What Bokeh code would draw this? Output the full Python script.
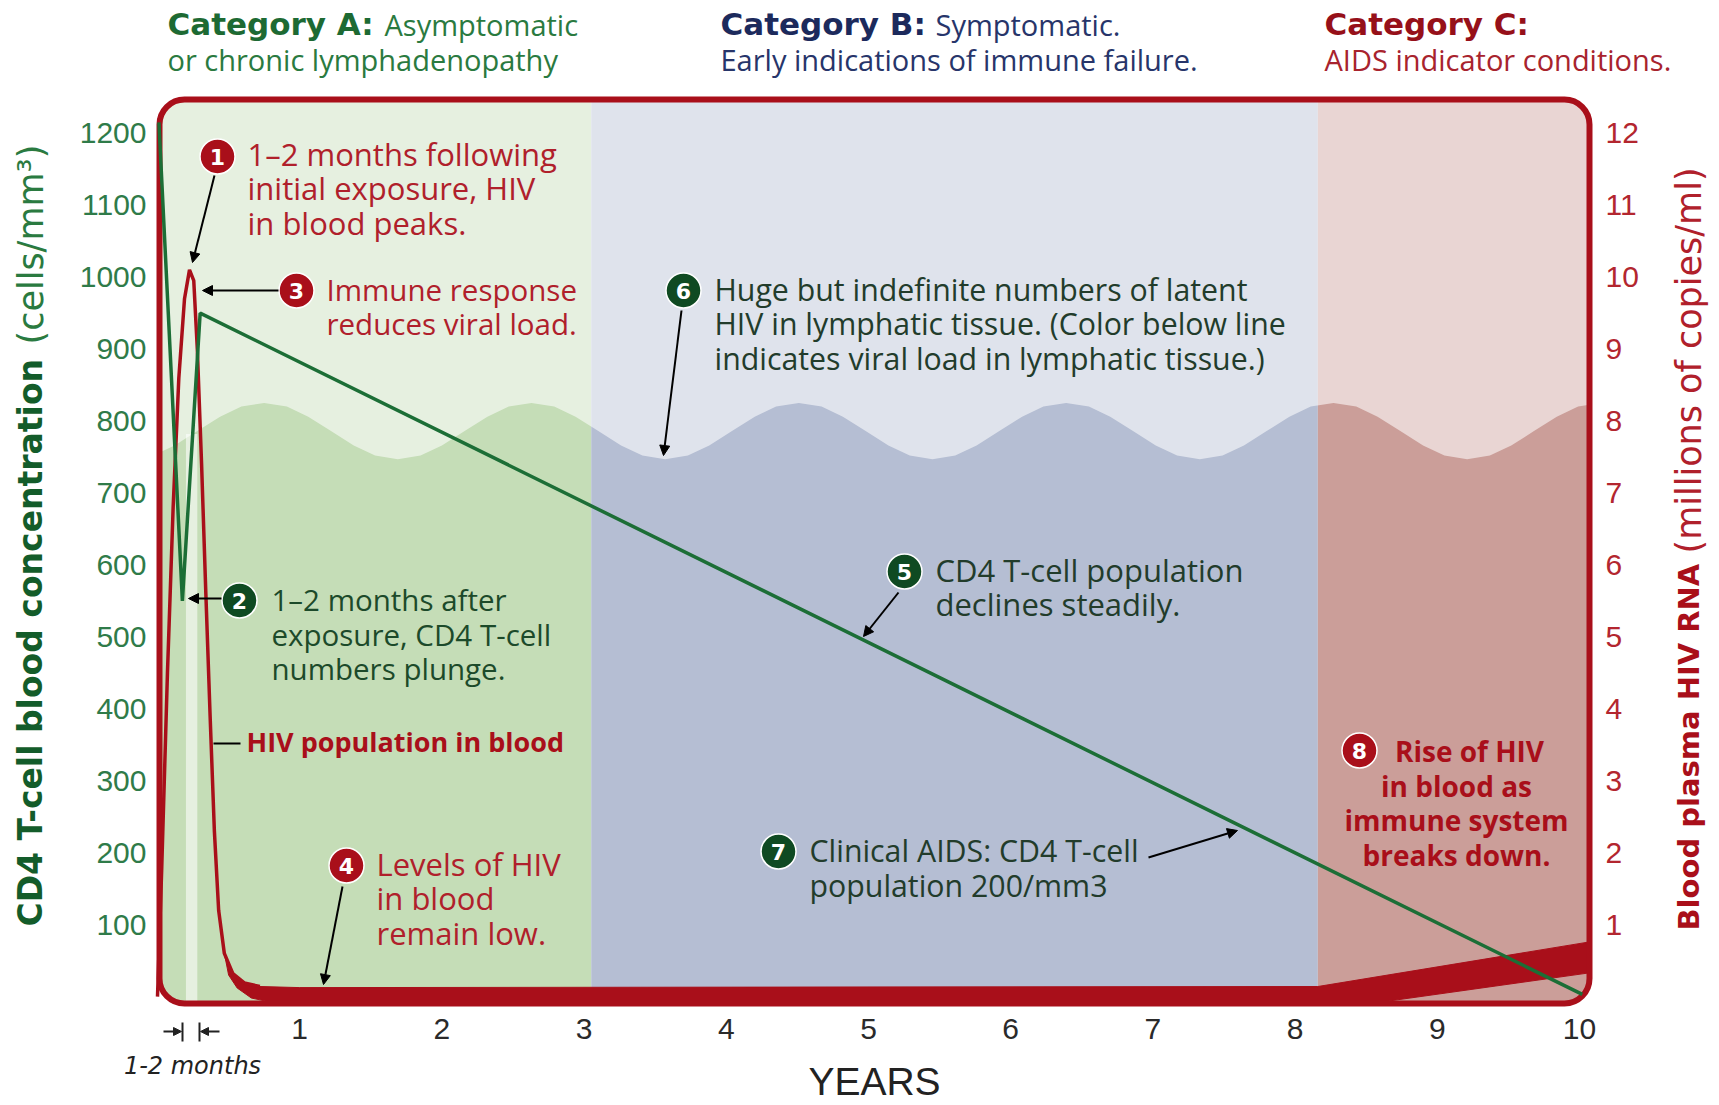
import numpy as np
from bokeh.plotting import figure
from bokeh.models import Range1d, LinearAxis, FixedTicker, Label, Arrow, NormalHead
from bokeh.core.properties import value
from bokeh.embed import file_html
from bokeh.resources import INLINE

# ------------------------------------------------------------------ data
year_ticks = [1, 2, 3, 4, 5, 6, 7, 8, 9, 10]
cd4_ticks = [100, 200, 300, 400, 500, 600, 700, 800, 900, 1000, 1100, 1200]
rna_ticks = [1, 2, 3, 4, 5, 6, 7, 8, 9, 10, 11, 12]

category_titles = ["Category A:", "Category B:", "Category C:"]
category_first = ["Asymptomatic", "Symptomatic.", ""]
category_second = ["or chronic lymphadenopathy",
                   "Early indications of immune failure.",
                   "AIDS indicator conditions."]
category_start = [0.0, 3.05, 8.16]
category_end = [3.05, 8.16, 10.07]

# CD4 T-cell count (cells/mm3)
cd4_years = [0.01, 0.175, 0.30, 10.02]
cd4_cells = [1215, 550, 950, 3]

# HIV RNA in blood (millions of copies/ml) - acute spike
hiv_years = [0.00, 0.03, 0.07, 0.11, 0.15, 0.19, 0.225, 0.255, 0.28, 0.31,
             0.34, 0.37, 0.40, 0.43, 0.47, 0.53, 0.61, 0.72]
hiv_mcopies = [0.0, 1.8, 4.5, 6.8, 8.6, 9.7, 10.1, 9.95, 9.0, 7.4,
               5.6, 3.9, 2.3, 1.2, 0.6, 0.32, 0.19, 0.14]

# HIV RNA band (low plateau, then rise in category C)
band_top_years = [0.47, 0.53, 0.61, 0.72, 1.00, 8.16, 10.07]
band_top_mcopies = [0.6, 0.32, 0.19, 0.14, 0.125, 0.14, 0.76]
band_bottom_years = [10.07, 8.52, 0.85, 0.66, 0.56, 0.50]
band_bottom_mcopies = [0.33, -0.10, -0.10, -0.02, 0.12, 0.30]

# latent HIV in lymphatic tissue (wavy level, drawn on the CD4 scale)
lymph_years = [-0.03, 0.12, 0.28, 0.44, 0.59, 0.75, 0.91, 1.06, 1.22, 1.38, 1.53, 1.69,
               1.85, 2.00, 2.16, 2.32, 2.47, 2.63, 2.79, 2.94, 3.10, 3.26, 3.41, 3.57,
               3.73, 3.88, 4.04, 4.20, 4.35, 4.51, 4.67, 4.82, 4.98, 5.14, 5.29, 5.45,
               5.61, 5.76, 5.92, 6.08, 6.23, 6.39, 6.55, 6.70, 6.86, 7.02, 7.17, 7.33,
               7.49, 7.64, 7.80, 7.96, 8.11, 8.27, 8.43, 8.58, 8.74, 8.90, 9.05, 9.21,
               9.37, 9.52, 9.68, 9.84, 9.99, 10.15]
lymph_level = [752, 766, 786, 806, 820, 825, 820, 806, 786, 766, 752, 747,
               752, 766, 786, 806, 820, 825, 820, 806, 786, 766, 752, 747,
               752, 766, 786, 806, 820, 825, 820, 806, 786, 766, 752, 747,
               752, 766, 786, 806, 820, 825, 820, 806, 786, 766, 752, 747,
               752, 766, 786, 806, 820, 825, 820, 806, 786, 766, 752, 747,
               752, 766, 786, 806, 820, 825]

acute_window = [0.20, 0.28]

# ------------------------------------------------------------------ layout helpers (canvas pixels -> data)
def dx(px):
    return (px - 157.0) / 142.2


def dy(py):
    return (996.1 - py) / 0.7195


W, H = 1715, 1104
RED = "#a90f1a"
RED_T = "#b0202b"
GREEN_LINE = "#1c6e36"
DKGREEN = "#0f4a22"
NOTE_DARK = "#223c2b"
LOWER = ["#c5ddb7", "#b5bed3", "#cb9e99"]

p = figure(width=W, height=H, output_backend="svg", toolbar_location=None,
           x_range=Range1d(dx(0), dx(W)), y_range=Range1d(dy(H), dy(0)), min_border=0)
p.extra_y_ranges = {"rna": Range1d(dy(H) / 100.0, dy(0) / 100.0)}
p.title.visible = False
p.outline_line_color = None
p.grid.visible = False
p.background_fill_color = "white"
p.border_fill_color = "white"

right_axis = LinearAxis(y_range_name="rna")
p.add_layout(right_axis, "right")

p.xaxis.ticker = FixedTicker(ticks=year_ticks)
p.yaxis[0].ticker = FixedTicker(ticks=cd4_ticks)
right_axis.ticker = FixedTicker(ticks=rna_ticks)
for ax in [p.xaxis[0], p.yaxis[0], right_axis]:
    ax.axis_line_color = None
    ax.major_tick_line_color = None
    ax.minor_tick_line_color = None
    ax.major_label_text_font = "Liberation Sans"
    ax.major_label_text_font_size = "30px"
p.xaxis[0].fixed_location = dy(1010)
p.xaxis[0].major_label_text_color = "#2a2a2a"
p.xaxis[0].major_label_standoff = 2
p.yaxis[0].fixed_location = dx(152)
p.yaxis[0].major_label_text_color = "#2f7b49"
p.yaxis[0].major_label_standoff = 0
right_axis.fixed_location = dx(1596)
right_axis.major_label_text_color = "#b3262f"
right_axis.major_label_standoff = 3

FX0, FX1, FY0, FY1 = dx(159), dx(1589), dy(1003), dy(99)

# category backgrounds (lower colour), then light overlay above lymphatic wave
p.quad(left=category_start, right=category_end, bottom=FY0, top=FY1,
       fill_color=LOWER, line_color=None)
p.varea(x=lymph_years, y1=lymph_level, y2=FY1, fill_color="white", fill_alpha=0.57)
p.quad(left=acute_window[0], right=acute_window[1], bottom=FY0, top=782,
       fill_color="white", fill_alpha=0.57, line_color=None)

# HIV band at the bottom
p.patch(x=band_top_years + band_bottom_years, y=band_top_mcopies + band_bottom_mcopies,
        y_range_name="rna", fill_color=RED, line_color=RED, line_width=1)

# rounded corner masks
R = 25.0
rx, ry = R / 142.2, R / 0.7195
padx, pady = 14 / 142.2, 14 / 0.7195
mx, my = [], []
for (cx0, cy0, hx, hy) in [(FX0, FY1, -1, 1), (FX1, FY1, 1, 1), (FX1, FY0, 1, -1), (FX0, FY0, -1, -1)]:
    cx, cy = cx0 - hx * rx, cy0 - hy * ry
    th = np.linspace(0, np.pi / 2, 24)
    xs = list(cx + hx * rx * np.cos(th)) + [cx, cx0 + hx * padx, cx0 + hx * padx]
    ys = list(cy + hy * ry * np.sin(th)) + [cy0 + hy * pady, cy0 + hy * pady, cy]
    mx.append(xs)
    my.append(ys)
p.patches(xs=mx, ys=my, fill_color="white", line_color=None)

# frame
p.quad(left=FX0, right=FX1, bottom=FY0, top=FY1, fill_color=None,
       line_color=RED, line_width=6, border_radius=25)

# HIV spike and CD4 line
p.line(hiv_years, hiv_mcopies, y_range_name="rna", line_color=RED, line_width=3.5)
p.line(cd4_years, cd4_cells, line_color=GREEN_LINE, line_width=3.5)

# numbered badges
badge_px = [(217, 156), (239, 600), (296, 290), (346, 865), (904, 571), (683, 290), (778, 851), (1359, 750)]
badge_txt = ["1", "2", "3", "4", "5", "6", "7", "8"]
badge_col = [RED, DKGREEN, RED, RED, DKGREEN, DKGREEN, DKGREEN, RED]
bx = [dx(a) for a, b in badge_px]
by = [dy(b) for a, b in badge_px]
p.scatter(bx, by, size=35, fill_color=badge_col, line_color="white", line_width=1.5)
p.text(bx, by, text=badge_txt, text_font=value("DejaVu Sans"), text_font_style="bold",
       text_font_size="22px", text_color="white", text_align="center", text_baseline="middle")


def lines(txts, x_px, y_px, color, size=31, style="normal", font="Open Sans",
          spacing=34.5, align="left", angle=0.0):
    for i, t in enumerate(txts):
        p.add_layout(Label(x=dx(x_px), y=dy(y_px + i * spacing), text=t, text_color=color,
                           text_font=font, text_font_size=f"{size}px", text_font_style=style,
                           text_align=align, text_baseline="middle", angle=angle))


# headers
hdr_x = [167, 720, 1324]
hdr_sub_x = [384, 935, 0]
hdr_col = ["#1d6a33", "#1c2a5c", "#961019"]
sub_col = ["#2a7a40", "#27356a", "#a8232d"]
for i in range(3):
    lines([category_titles[i]], hdr_x[i], 23, hdr_col[i], size=31, style="bold", font="DejaVu Sans")
    if category_first[i]:
        lines([category_first[i]], hdr_sub_x[i], 24, sub_col[i], size=29)
    lines([category_second[i]], hdr_x[i], 59, sub_col[i], size=29)

# notes
lines(["1\u20132 months following", "initial exposure, HIV", "in blood peaks."], 247, 153, RED_T)
lines(["Immune response", "reduces viral load."], 326, 288.5, RED_T, size=29.5)
lines(["1\u20132 months after", "exposure, CD4 T-cell", "numbers plunge."], 271, 599, "#1c4a2a", size=29.5)
lines(["Levels of HIV", "in blood", "remain low."], 376, 863, RED_T)
lines(["Huge but indefinite numbers of latent", "HIV in lymphatic tissue. (Color below line",
       "indicates viral load in lymphatic tissue.)"], 714, 288.5, NOTE_DARK, size=30.3)
lines(["CD4 T-cell population", "declines steadily."], 935, 569, NOTE_DARK)
lines(["Clinical AIDS: CD4 T-cell", "population 200/mm3"], 809, 850, NOTE_DARK, size=30.3)
lines(["HIV population in blood"], 246, 741, RED, size=27, style="bold")
lines(["Rise of HIV"], 1469, 750, RED, size=28, style="bold", align="center")
lines(["in blood as", "immune system", "breaks down."], 1456, 785, RED, size=28, style="bold", align="center")

# arrows
arrows = [((214, 175), (192, 262)), ((278, 290), (202, 290)), ((221, 598), (188, 598)),
          ((342, 886), (323, 984)), ((681, 310), (663, 455)), ((898, 592), (863, 636)),
          ((1148, 857), (1237, 830))]
for (a, b) in arrows:
    p.add_layout(Arrow(x_start=dx(a[0]), y_start=dy(a[1]), x_end=dx(b[0]), y_end=dy(b[1]),
                       line_color="black", line_width=2,
                       end=NormalHead(size=10, fill_color="black", line_color="black")))
p.add_layout(Arrow(x_start=dx(213), y_start=dy(743), x_end=dx(240), y_end=dy(743),
                   line_color="black", line_width=2, end=None))

# 1-2 months marker below axis
for xb in [182, 199]:
    p.add_layout(Arrow(x_start=dx(xb), y_start=dy(1022), x_end=dx(xb), y_end=dy(1041),
                       line_color="#222222", line_width=2, end=None))
p.add_layout(Arrow(x_start=dx(163), y_start=dy(1031), x_end=dx(181), y_end=dy(1031),
                   line_color="#222222", line_width=2,
                   end=NormalHead(size=8, fill_color="#222222", line_color="#222222")))
p.add_layout(Arrow(x_start=dx(219), y_start=dy(1031), x_end=dx(200), y_end=dy(1031),
                   line_color="#222222", line_width=2,
                   end=NormalHead(size=8, fill_color="#222222", line_color="#222222")))
lines(["1-2 months"], 192, 1065, "#222222", size=24, style="italic", font="DejaVu Sans", align="center")
lines(["YEARS"], 874, 1081, "#222222", size=39, font="Liberation Sans", align="center")

# axis titles
lines(["CD4 T-cell blood concentration"], 30, 926, "#135c2a", size=33, style="bold",
      font="DejaVu Sans", angle=np.pi / 2)
lines(["(cells/mm\u00b3)"], 30, 344, "#2a7a40", size=35, font="DejaVu Sans", angle=np.pi / 2)
lines(["Blood plasma HIV RNA"], 1688, 930, RED, size=29, style="bold",
      font="DejaVu Sans", angle=np.pi / 2)
lines(["(millions of copies/ml)"], 1688, 553, RED_T, size=35, font="DejaVu Sans", angle=np.pi / 2)

open("out.html", "w").write(file_html(p, INLINE))
